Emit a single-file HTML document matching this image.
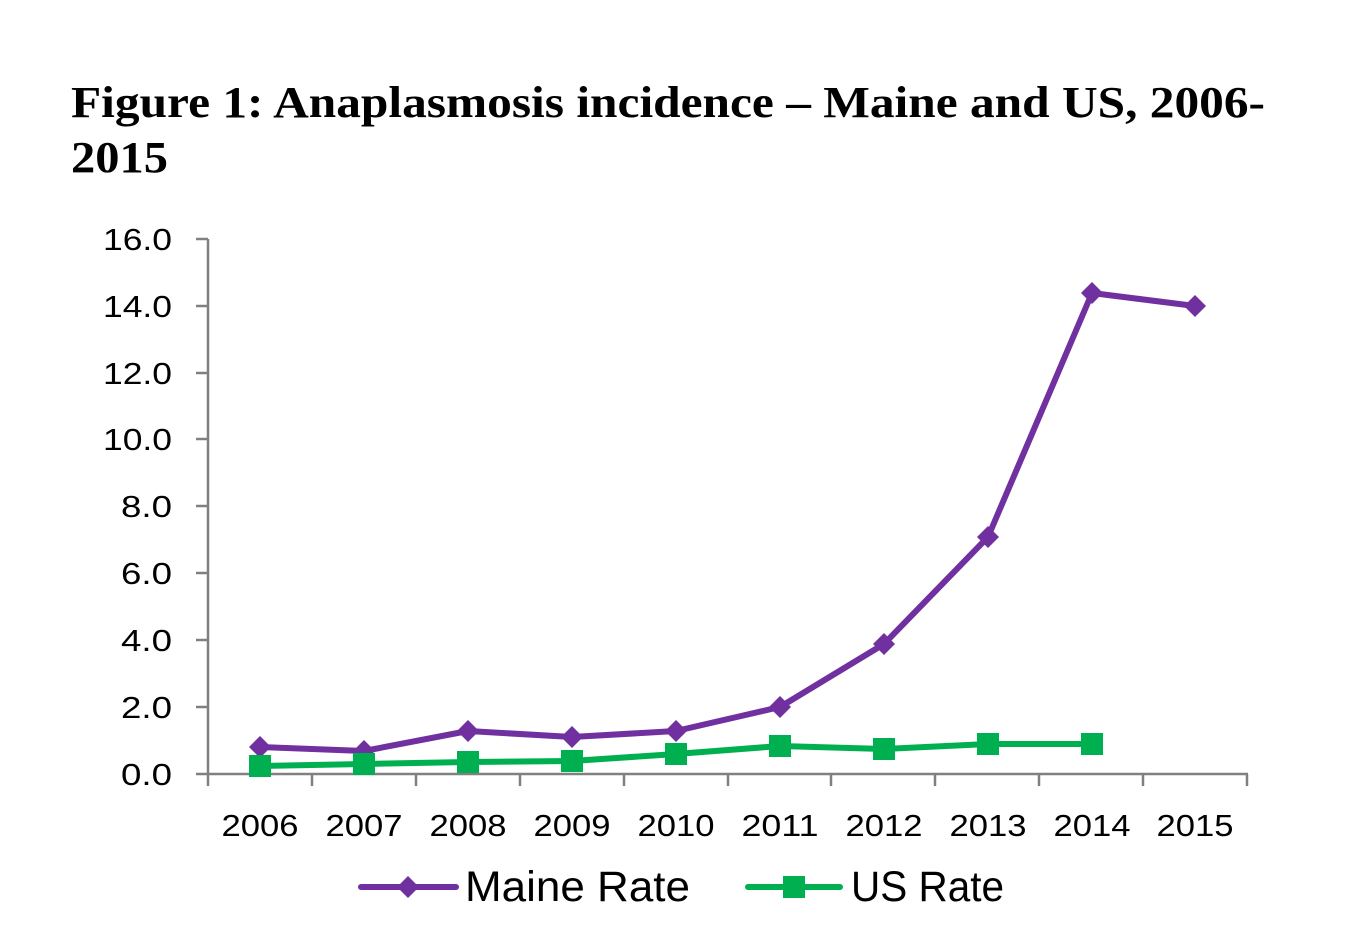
<!DOCTYPE html>
<html><head><meta charset="utf-8"><style>
body{margin:0;background:#fff;}
</style></head><body>
<svg width="1361" height="938" xmlns="http://www.w3.org/2000/svg">
<rect width="1361" height="938" fill="#fff"/>
<g font-family="Liberation Serif, serif" font-weight="bold" font-size="44" fill="#000">
<text x="71" y="117" textLength="1194" lengthAdjust="spacingAndGlyphs">Figure 1:  Anaplasmosis incidence – Maine and US, 2006-</text>
<text x="71" y="172" textLength="97" lengthAdjust="spacingAndGlyphs">2015</text>
</g>
<g stroke="#808080" stroke-width="2.5" fill="none">
<line x1="208" y1="239" x2="208" y2="774"/>
<line x1="196" y1="774" x2="1248" y2="774"/>
<line x1="196" y1="239" x2="208" y2="239"/>
<line x1="196" y1="306" x2="208" y2="306"/>
<line x1="196" y1="373" x2="208" y2="373"/>
<line x1="196" y1="439" x2="208" y2="439"/>
<line x1="196" y1="506" x2="208" y2="506"/>
<line x1="196" y1="573" x2="208" y2="573"/>
<line x1="196" y1="640" x2="208" y2="640"/>
<line x1="196" y1="707" x2="208" y2="707"/>
<line x1="208" y1="774" x2="208" y2="786"/>
<line x1="312" y1="774" x2="312" y2="786"/>
<line x1="416" y1="774" x2="416" y2="786"/>
<line x1="520" y1="774" x2="520" y2="786"/>
<line x1="624" y1="774" x2="624" y2="786"/>
<line x1="728" y1="774" x2="728" y2="786"/>
<line x1="831" y1="774" x2="831" y2="786"/>
<line x1="935" y1="774" x2="935" y2="786"/>
<line x1="1039" y1="774" x2="1039" y2="786"/>
<line x1="1143" y1="774" x2="1143" y2="786"/>
<line x1="1247" y1="774" x2="1247" y2="786"/>
</g>
<g font-family="Liberation Sans, sans-serif" font-size="31" fill="#000" text-anchor="end">
<text x="172" y="250" textLength="69" lengthAdjust="spacingAndGlyphs">16.0</text>
<text x="172" y="317" textLength="69" lengthAdjust="spacingAndGlyphs">14.0</text>
<text x="172" y="384" textLength="69" lengthAdjust="spacingAndGlyphs">12.0</text>
<text x="172" y="450" textLength="69" lengthAdjust="spacingAndGlyphs">10.0</text>
<text x="172" y="517" textLength="51" lengthAdjust="spacingAndGlyphs">8.0</text>
<text x="172" y="584" textLength="51" lengthAdjust="spacingAndGlyphs">6.0</text>
<text x="172" y="651" textLength="51" lengthAdjust="spacingAndGlyphs">4.0</text>
<text x="172" y="718" textLength="51" lengthAdjust="spacingAndGlyphs">2.0</text>
<text x="172" y="785" textLength="51" lengthAdjust="spacingAndGlyphs">0.0</text>
</g>
<g font-family="Liberation Sans, sans-serif" font-size="31" fill="#000" text-anchor="middle">
<text x="260" y="836" textLength="77" lengthAdjust="spacingAndGlyphs">2006</text><text x="364" y="836" textLength="77" lengthAdjust="spacingAndGlyphs">2007</text><text x="468" y="836" textLength="77" lengthAdjust="spacingAndGlyphs">2008</text>
<text x="572" y="836" textLength="77" lengthAdjust="spacingAndGlyphs">2009</text><text x="676" y="836" textLength="77" lengthAdjust="spacingAndGlyphs">2010</text><text x="780" y="836" textLength="77" lengthAdjust="spacingAndGlyphs">2011</text>
<text x="884" y="836" textLength="77" lengthAdjust="spacingAndGlyphs">2012</text><text x="988" y="836" textLength="77" lengthAdjust="spacingAndGlyphs">2013</text><text x="1092" y="836" textLength="77" lengthAdjust="spacingAndGlyphs">2014</text>
<text x="1195" y="836" textLength="77" lengthAdjust="spacingAndGlyphs">2015</text>
</g>
<polyline fill="none" stroke="#7030a0" stroke-width="6" stroke-linejoin="round" points="260,747 364,751 468,731 572,737 676,731 780,707 884,644 988,537 1092,293 1195,306"/>
<g fill="#7030a0">
<path d="M260,736l11,11l-11,11l-11,-11z"/><path d="M364,740l11,11l-11,11l-11,-11z"/>
<path d="M468,720l11,11l-11,11l-11,-11z"/><path d="M572,726l11,11l-11,11l-11,-11z"/>
<path d="M676,720l11,11l-11,11l-11,-11z"/><path d="M780,696l11,11l-11,11l-11,-11z"/>
<path d="M884,633l11,11l-11,11l-11,-11z"/><path d="M988,526l11,11l-11,11l-11,-11z"/>
<path d="M1092,282l11,11l-11,11l-11,-11z"/><path d="M1195,295l11,11l-11,11l-11,-11z"/>
</g>
<polyline fill="none" stroke="#00b050" stroke-width="6" stroke-linejoin="round" points="260,766 364,764 468,762 572,761 676,754 780,746 884,749 988,744 1092,744"/>
<g fill="#00b050">
<rect x="249" y="755" width="22" height="22"/><rect x="353" y="753" width="22" height="22"/>
<rect x="457" y="751" width="22" height="22"/><rect x="561" y="750" width="22" height="22"/>
<rect x="665" y="743" width="22" height="22"/><rect x="769" y="735" width="22" height="22"/>
<rect x="873" y="738" width="22" height="22"/><rect x="977" y="733" width="22" height="22"/>
<rect x="1081" y="733" width="22" height="22"/>
</g>
<line x1="361" y1="887" x2="456" y2="887" stroke="#7030a0" stroke-width="6" stroke-linecap="round"/>
<path d="M408,876l11,11l-11,11l-11,-11z" fill="#7030a0"/>
<text x="465" y="901" font-family="Liberation Sans, sans-serif" font-size="43" fill="#000" textLength="225" lengthAdjust="spacingAndGlyphs">Maine Rate</text>
<line x1="748" y1="887" x2="840" y2="887" stroke="#00b050" stroke-width="6" stroke-linecap="round"/>
<rect x="783" y="876" width="22" height="22" fill="#00b050"/>
<text x="851" y="901" font-family="Liberation Sans, sans-serif" font-size="43" fill="#000" textLength="153" lengthAdjust="spacingAndGlyphs">US Rate</text>
</svg>
</body></html>
